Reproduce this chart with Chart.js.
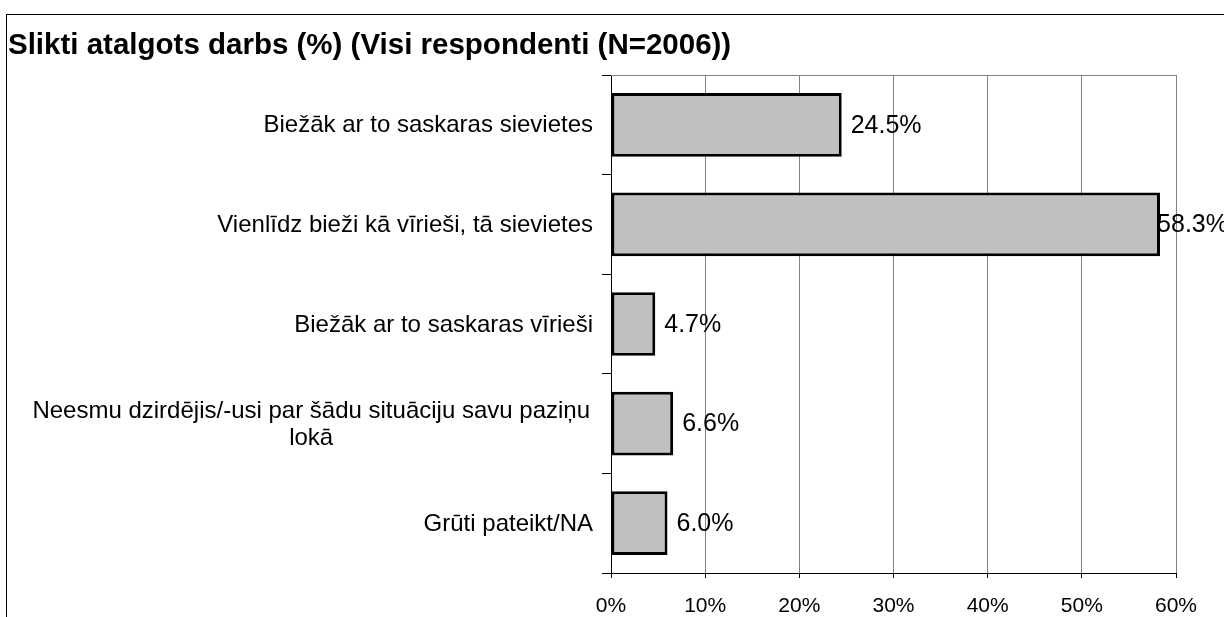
<!DOCTYPE html>
<html>
<head>
<meta charset="utf-8">
<script src="https://cdn.jsdelivr.net/npm/chart.js@4/dist/chart.umd.min.js"></script>
<style>
  html, body { margin: 0; padding: 0; background: #fff; }
  #wrap { position: relative; width: 1224px; height: 617px; overflow: hidden; }
  #frame { position: absolute; left: 6px; top: 14px; width: 1300px; height: 700px;
           border-top: 1px solid #000; border-left: 1px solid #000; }
  canvas { position: absolute; left: 0; top: 0; }
</style>
</head>
<body>
<div id="wrap">
  <div id="frame"></div>
  <canvas id="chart" width="1224" height="617"></canvas>
</div>
<script>
// values
const title = "Slikti atalgots darbs (%) (Visi respondenti (N=2006))";
const categories = [
  "Biežāk ar to saskaras sievietes",
  "Vienlīdz bieži kā vīrieši, tā sievietes",
  "Biežāk ar to saskaras vīrieši",
  ["Neesmu dzirdējis/-usi par šādu situāciju savu paziņu", "lokā"],
  "Grūti pateikt/NA"
];
const values = [24.5, 58.3, 4.7, 6.6, 6.0];
const xMin = 0, xMax = 60, xStep = 10;

const FONT = '"Liberation Sans", Arial, sans-serif';
Chart.defaults.font.family = FONT;
Chart.defaults.color = '#000';

// gray frame line along the top of the plot area
const topLine = {
  id: 'topLine',
  beforeDatasetsDraw(chart) {
    const { ctx, chartArea: a } = chart;
    ctx.save();
    ctx.strokeStyle = '#808080';
    ctx.lineWidth = 1;
    ctx.beginPath();
    ctx.moveTo(a.left, a.top + 0.5);
    ctx.lineTo(a.right, a.top + 0.5);
    ctx.stroke();
    ctx.restore();
  }
};

// value labels right of each bar, pulled back in when they would run off
const valueLabels = {
  id: 'valueLabels',
  afterDatasetsDraw(chart) {
    const ctx = chart.ctx;
    const meta = chart.getDatasetMeta(0);
    ctx.save();
    ctx.font = '25px ' + FONT;
    ctx.fillStyle = '#000';
    ctx.textAlign = 'left';
    ctx.textBaseline = 'middle';
    meta.data.forEach((bar, i) => {
      const txt = values[i].toFixed(1) + '%';
      const w = ctx.measureText(txt).width;
      const x = Math.min(bar.x + 9, chart.width - w + 4);
      ctx.fillText(txt, x, bar.y + 1);
    });
    ctx.restore();
  }
};

// category labels, wrapped lines centred inside a right-aligned block
const catLabels = {
  id: 'catLabels',
  afterDraw(chart) {
    const ctx = chart.ctx;
    const y = chart.scales.y;
    const right = chart.chartArea.left - 18;
    const lh = 27;
    ctx.save();
    ctx.font = '24px ' + FONT;
    ctx.fillStyle = '#000';
    ctx.textBaseline = 'middle';
    ctx.textAlign = 'center';
    categories.forEach((c, i) => {
      const lines = Array.isArray(c) ? c : [c];
      const w = Math.max(...lines.map(l => ctx.measureText(l).width));
      const cy = y.getPixelForValue(i);
      const y0 = cy - (lines.length - 1) * lh / 2;
      const r = lines.length > 1 ? right - 3 : right;
      lines.forEach((l, k) => {
        ctx.fillText(l, r - w / 2, y0 + k * lh + 1);
      });
    });
    ctx.restore();
  }
};

new Chart(document.getElementById('chart'), {
  type: 'bar',
  data: {
    labels: categories,
    datasets: [{
      data: values,
      backgroundColor: '#c0c0c0',
      borderColor: '#000',
      borderWidth: 3,
      borderSkipped: false,
      barPercentage: 0.8,
      categoryPercentage: 0.8
    }]
  },
  options: {
    indexAxis: 'y',
    responsive: false,
    animation: false,
    layout: { padding: { left: 8, right: 48, top: 0, bottom: 0 } },
    plugins: {
      legend: { display: false },
      tooltip: { enabled: false },
      title: {
        display: true,
        text: title,
        align: 'start',
        color: '#000',
        font: { size: 29.5, weight: 'bold', family: FONT, lineHeight: 1.2 },
        padding: { top: 28, bottom: 11.6 }
      }
    },
    scales: {
      x: {
        min: xMin, max: xMax,
        ticks: {
          stepSize: xStep,
          callback: v => v + '%',
          font: { size: 21 },
          color: '#000',
          padding: 16,
          maxRotation: 0
        },
        grid: { color: '#808080', lineWidth: 1, tickLength: 5, tickColor: '#000' },
        border: { display: true, color: '#000', width: 1 },
        afterFit: s => { s.height = 44; }
      },
      y: {
        ticks: { display: false },
        grid: { drawOnChartArea: false, tickLength: 9, color: '#000', offset: true },
        border: { display: true, color: '#000', width: 1 },
        afterFit: s => { s.width = 603; }
      }
    }
  },
  plugins: [topLine, valueLabels, catLabels]
});
</script>
</body>
</html>
